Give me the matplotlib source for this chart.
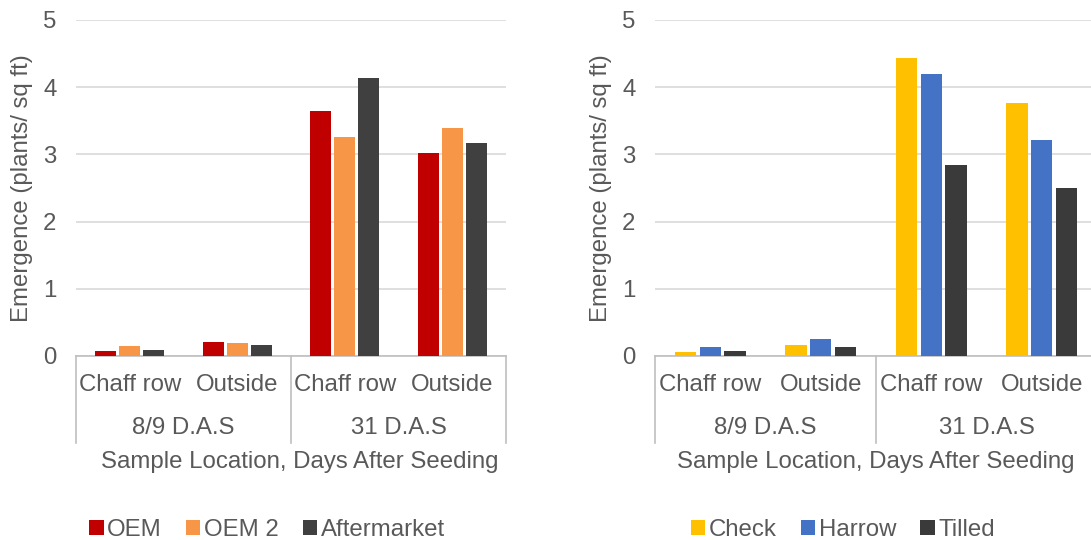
import matplotlib.pyplot as plt
from matplotlib.patches import Patch

plt.rcParams['font.family'] = ['Liberation Sans', 'DejaVu Sans']

# data
locations = ['Chaff row', 'Outside', 'Chaff row', 'Outside']
timings = ['8/9 D.A.S', '31 D.A.S']

left_names = ['OEM', 'OEM 2', 'Aftermarket']
oem = [0.07, 0.21, 3.65, 3.02]
oem2 = [0.15, 0.20, 3.26, 3.40]
aftermarket = [0.09, 0.17, 4.13, 3.17]
left_colors = ['#C00000', '#F79646', '#404040']

right_names = ['Check', 'Harrow', 'Tilled']
check = [0.06, 0.16, 4.43, 3.76]
harrow = [0.14, 0.25, 4.20, 3.22]
tilled = [0.07, 0.13, 2.84, 2.50]
right_colors = ['#FFC000', '#4472C4', '#3A3A3A']

txt = '#595959'
fs = 17.3
W, H = 1091, 540


def draw_panel(ax, series, names, colors, width_px):
    step = 0.224
    width = 0.193
    x = range(len(locations))
    for k, (vals, c) in enumerate(zip(series, colors)):
        ax.bar([i + (k - 1) * step for i in x], vals, width=width, color=c, zorder=3)

    ax.set_ylim(0, 5)
    ax.set_xlim(-0.5, len(locations) - 0.5)
    ax.set_yticks(range(6))
    ax.grid(axis='y', color='#d9d9d9', linewidth=1.2, zorder=0)
    for s in ['top', 'right', 'left']:
        ax.spines[s].set_visible(False)
    ax.spines['bottom'].set_color('#bfbfbf')
    ax.spines['bottom'].set_linewidth(1.2)
    ax.tick_params(axis='y', length=0, labelsize=fs, labelcolor=txt, pad=14)
    ax.set_xticks([])
    ax.set_ylabel('Emergence (plants/ sq ft)', fontsize=fs, color=txt)
    # label's right edge about 43 px left of the axes
    ax.yaxis.set_label_coords(-43 / width_px, 0.5)

    bt = ax.get_xaxis_transform()
    h = 336.0
    # location labels
    for i, lab in enumerate(locations):
        ax.text(i, -29 / h, lab, transform=bt, ha='center', va='center',
                fontsize=fs, color=txt)
    # timing group labels
    for g, lab in enumerate(timings):
        ax.text(2 * g + 0.5, -72 / h, lab, transform=bt, ha='center', va='center',
                fontsize=fs, color=txt)
    # group dividers
    for xv in [-0.5, 1.5, 3.5]:
        ax.plot([xv, xv], [0, -87 / h], transform=bt, color='#bfbfbf',
                linewidth=1.2, clip_on=False)

    handles = [Patch(facecolor=c, label=n) for n, c in zip(names, colors)]
    return handles


fig = plt.figure(figsize=(W / 100, H / 100), dpi=100)

ax1 = fig.add_axes([76 / W, (H - 356) / H, 430 / W, 336 / H])
h1 = draw_panel(ax1, [oem, oem2, aftermarket], left_names, left_colors, 430)

ax2 = fig.add_axes([655 / W, (H - 356) / H, 442 / W, 336 / H])
h2 = draw_panel(ax2, [check, harrow, tilled], right_names, right_colors, 442)

fig.text(300 / W, 1 - 462 / H, 'Sample Location, Days After Seeding',
         ha='center', va='center', fontsize=fs, color=txt)
fig.text(876 / W, 1 - 462 / H, 'Sample Location, Days After Seeding',
         ha='center', va='center', fontsize=fs, color=txt)

leg_kw = dict(ncol=3, frameon=False, fontsize=fs, labelcolor=txt,
              handlelength=0.6, handleheight=0.6, handletextpad=0.15,
              columnspacing=1.0, loc='center')
fig.legend(handles=h1, bbox_to_anchor=(267 / W, 1 - 530 / H), **leg_kw)
fig.legend(handles=h2, bbox_to_anchor=(843 / W, 1 - 530 / H), **leg_kw)

fig.savefig('out.png', dpi=100)
